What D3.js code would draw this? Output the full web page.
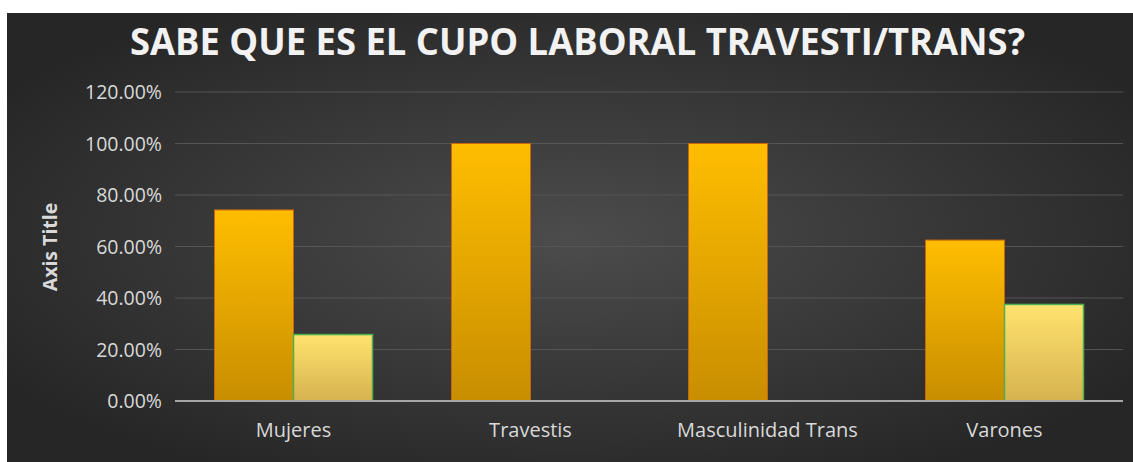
<!DOCTYPE html>
<html lang="en">
 <head>
 <meta charset="UTF-8">
        <title>Sabe que es el cupo laboral travesti/trans?</title>
        <script type="text/javascript" src="https://unpkg.com/d3@7/dist/d3.min.js"></script>
        <style>
          body { margin: 0; background: #fff; }
        </style>
 </head>
 <body>
        <script type="text/javascript">

          var categories = ["Mujeres", "Travestis", "Masculinidad Trans", "Varones"];
          var serieSi = [0.742, 1.0, 1.0, 0.625];
          var serieNo = [0.258, 0, 0, 0.375];
          var yTicks = [0, 0.2, 0.4, 0.6, 0.8, 1.0, 1.2];
          var titulo = "SABE QUE ES EL CUPO LABORAL TRAVESTI/TRANS?";

          var W = 1133, H = 462;
          var plotLeft = 175, plotRight = 1123, plotTop = 92, plotBottom = 401;

          var svg = d3.select("body").append("svg")
                      .attr("width", W).attr("height", H);

          var defs = svg.append("defs");
          var bg = defs.append("radialGradient").attr("id", "bg")
                       .attr("cx", "50%").attr("cy", "50%").attr("r", "60%");
          bg.append("stop").attr("offset", "0%").attr("stop-color", "#4c4c4c");
          bg.append("stop").attr("offset", "100%").attr("stop-color", "#262626");

          var g1 = defs.append("linearGradient").attr("id", "gSi")
                       .attr("x1", 0).attr("y1", 0).attr("x2", 0).attr("y2", 1);
          g1.append("stop").attr("offset", "0%").attr("stop-color", "#ffbd00");
          g1.append("stop").attr("offset", "100%").attr("stop-color", "#c88e00");

          var g2 = defs.append("linearGradient").attr("id", "gNo")
                       .attr("x1", 0).attr("y1", 0).attr("x2", 0).attr("y2", 1);
          g2.append("stop").attr("offset", "0%").attr("stop-color", "#ffe36f");
          g2.append("stop").attr("offset", "100%").attr("stop-color", "#d6b24e");

          svg.append("rect").attr("x", 7).attr("y", 13)
             .attr("width", W - 7).attr("height", H - 13)
             .attr("fill", "url(#bg)");

          var x = d3.scaleBand().domain(categories).range([plotLeft, plotRight]).paddingInner(0).paddingOuter(0);
          var y = d3.scaleLinear().domain([0, 1.2]).range([plotBottom, plotTop]);
          var inner = d3.scaleBand().domain(["si", "no"]).range([0, x.bandwidth()]).paddingInner(0).paddingOuter(0.5);

          // gridlines
          svg.append("g").selectAll("line").data(yTicks.slice(1)).enter().append("line")
             .attr("x1", plotLeft).attr("x2", plotRight)
             .attr("y1", d => y(d)).attr("y2", d => y(d))
             .attr("stroke", "#555555").attr("stroke-width", 1);

          // y labels
          svg.append("g").selectAll("text").data(yTicks).enter().append("text")
             .attr("x", 162).attr("y", d => y(d) + 7)
             .attr("text-anchor", "end")
             .attr("font-family", "Open Sans, sans-serif").attr("font-size", 19.5)
             .attr("fill", "#d9d9d9")
             .text(d => d3.format(".2%")(d));

          var bars = svg.append("g");
          bars.selectAll("rect.si").data(serieSi).enter().append("rect")
              .attr("class", "si")
              .attr("x", (d, i) => x(categories[i]) + inner("si"))
              .attr("y", d => y(d))
              .attr("width", inner.bandwidth())
              .attr("height", d => plotBottom - y(d))
              .attr("fill", "url(#gSi)")
              .attr("stroke", "#c9650f").attr("stroke-width", 1);

          var noData = serieNo.map((v, i) => ({ cat: categories[i], v: v })).filter(d => d.v > 0);
          bars.selectAll("rect.no").data(noData).enter().append("rect")
              .attr("class", "no")
              .attr("x", d => x(d.cat) + inner("no"))
              .attr("y", d => y(d.v))
              .attr("width", inner.bandwidth())
              .attr("height", d => plotBottom - y(d.v))
              .attr("fill", "url(#gNo)")
              .attr("stroke", "#4caf50").attr("stroke-width", 1.5);

          // zero line
          svg.append("line").attr("x1", plotLeft).attr("x2", plotRight)
             .attr("y1", y(0)).attr("y2", y(0))
             .attr("stroke", "#a6a6a6").attr("stroke-width", 2);

          // x labels
          svg.append("g").selectAll("text").data(categories).enter().append("text")
             .attr("x", d => x(d) + x.bandwidth() / 2).attr("y", 437)
             .attr("text-anchor", "middle")
             .attr("font-family", "Open Sans, sans-serif").attr("font-size", 20)
             .attr("fill", "#d9d9d9")
             .text(d => d);

          // axis title
          svg.append("text")
             .attr("transform", "translate(57,247) rotate(-90)")
             .attr("text-anchor", "middle")
             .attr("font-family", "Open Sans, sans-serif").attr("font-size", 19.5)
             .attr("font-weight", "bold").attr("fill", "#d9d9d9")
             .text("Axis Title");

          // title
          svg.append("text")
             .attr("x", 130).attr("y", 55)
             .attr("textLength", 895).attr("lengthAdjust", "spacingAndGlyphs")
             .attr("font-family", "Open Sans, sans-serif").attr("font-size", 37)
             .attr("font-weight", "bold").attr("fill", "#f2f2f2")
             .text(titulo);

        </script>
    </body>
</html>
